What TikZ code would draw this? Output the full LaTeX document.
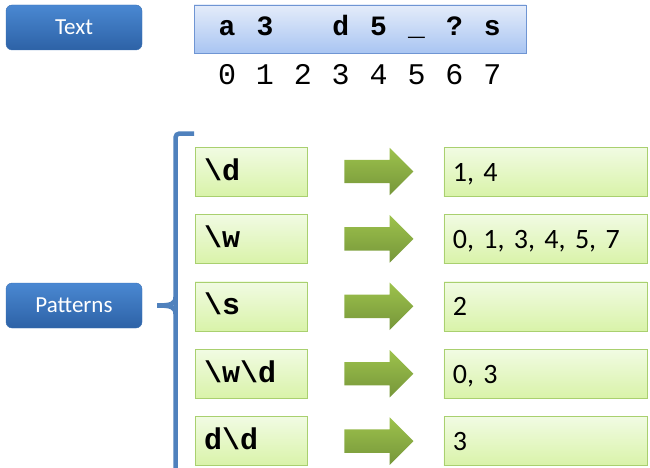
\documentclass[tikz,border=0pt]{standalone}
\usepackage{fontspec}
\setmainfont{Carlito}
\newfontfamily\monofont{Liberation Mono}
\usetikzlibrary{positioning, shapes.arrows}

\definecolor{btntop}{HTML}{4A88D2}
\definecolor{btnbot}{HTML}{2D62A6}
\definecolor{btnedge}{HTML}{3A70B4}
\definecolor{striptop}{HTML}{E4ECFA}
\definecolor{stripbot}{HTML}{A9C5F2}
\definecolor{stripedge}{HTML}{6F95D3}
\definecolor{celltop}{HTML}{F1FBE3}
\definecolor{cellbot}{HTML}{D9F3A9}
\definecolor{celledge}{HTML}{A9D06F}
\definecolor{arrtop}{HTML}{9DC24C}
\definecolor{arrbot}{HTML}{76963A}
\definecolor{bracecol}{HTML}{4F81BD}

\begin{document}
\begin{tikzpicture}[
  x=1pt, y=1pt,
  btn/.style={draw=btnedge, rounded corners=6pt, top color=btntop, bottom color=btnbot,
              text=white, minimum width=136pt, minimum height=45pt,
              font=\fontsize{23}{27}\selectfont},
  strip/.style={draw=stripedge, top color=striptop, bottom color=stripbot,
                minimum width=332pt, minimum height=48pt, inner sep=0pt},
  chr/.style={inner sep=0pt, font=\monofont\bfseries\fontsize{28}{32}\selectfont},
  idx/.style={inner sep=0pt, font=\monofont\fontsize{30}{34}\selectfont},
  cell/.style={draw=celledge, top color=celltop, bottom color=cellbot,
               minimum height=49pt, inner xsep=9pt, align=left},
  pat/.style={cell, text width=94pt, text height=22pt, text depth=5pt,
              font=\monofont\bfseries\fontsize{30}{34}\selectfont},
  res/.style={cell, text width=185pt, text height=23pt, text depth=4pt,
              font=\fontsize{28}{32}\selectfont},
  go/.style={single arrow, top color=arrtop, bottom color=arrbot,
             minimum height=69pt, inner xsep=0pt, inner ysep=11.5pt,
             single arrow head extend=12pt},
  brace/.style={draw=bracecol, line width=4.5pt},
  node distance=18pt and 37pt]

  \useasboundingbox (0,0) rectangle (650,-468);

  % text strip
  \node[btn] (tbtn) at (74,-27.5) {Text};
  \node[strip] (str) at (360,-29) {};
  \foreach \k/\c in {0/a,1/3,3/d,4/5,5/\_,6/?,7/s}
    \node[chr, anchor=base] (c\k) at ({227+37.9*\k},-36) {\c};
  \foreach \k in {0,...,7}
    \node[idx, anchor=base] (i\k) at ({227+37.9*\k},-85) {\k};

  % patterns
  \node[btn] (pbtn) at (74,-305.5) {Patterns};

  \node[pat] (p1) at (251,-171.5) {\textbackslash d};
  \node[go, right=of p1] (a1) {};
  \node[res, right=30pt of a1] (r1) {1, 4};

  \node[pat, below=of p1] (p2) {\textbackslash w};
  \node[go, right=of p2] (a2) {};
  \node[res, right=30pt of a2] (r2) {0, 1, 3, 4, 5, 7};

  \node[pat, below=of p2] (p3) {\textbackslash s};
  \node[go, right=of p3] (a3) {};
  \node[res, right=30pt of a3] (r3) {2};

  \node[pat, below=of p3] (p4) {\textbackslash w\textbackslash d};
  \node[go, right=of p4] (a4) {};
  \node[res, right=30pt of a4] (r4) {0, 3};

  \node[pat, below=of p4] (p5) {d\textbackslash d};
  \node[go, right=of p5] (a5) {};
  \node[res, right=30pt of a5] (r5) {3};

  % brace
  \coordinate[right=15pt of pbtn] (tip);
  \draw[brace, rounded corners=4pt] (194,-133.5) -- (175.5,-133.5) -- (175.5,-468);
  \draw[brace] (tip) .. controls (171,-305.5) and (175.5,-304) .. (175.5,-297);
  \draw[brace] (tip) .. controls (171,-305.5) and (175.5,-307) .. (175.5,-314);
\end{tikzpicture}
\end{document}
